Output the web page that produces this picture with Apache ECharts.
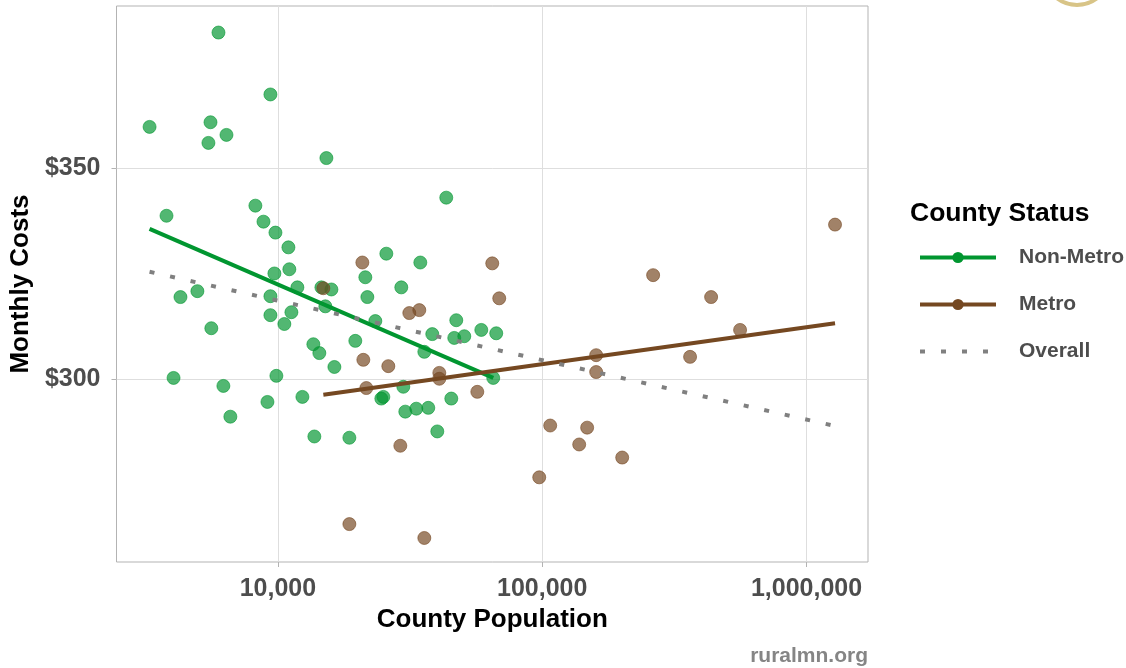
<!DOCTYPE html>
<html lang="en">
  <head>
    <meta charset="UTF-8" />
    <title>Monthly Costs by County Population</title>
    <script src="https://cdn.jsdelivr.net/npm/echarts@6/dist/echarts.min.js"></script>
  </head>
  <body style="margin: 0; background: #fff">
    <div id="chart" style="width: 1126px; height: 668px"></div>
  </body>
  <script>
    // non-metro counties: population, monthly cost
    const nonMetroPop = [
      5960, 9370, 3270, 5560, 6390, 5460, 15260, 3790, 8220, 8820, 9790, 10960,
      9700, 11050, 11850, 14610, 15940, 21420, 21800, 4960, 4280, 9370, 11250,
      9370, 10580, 15120, 5600, 19630, 13620, 14350, 16360, 23370, 4030, 9870,
      6220, 9130, 6610, 12380, 13740, 18640, 43350, 25720, 34580, 29300, 47300,
      38380, 46480, 50720, 58820, 67000, 35810, 65270, 29820, 24620, 25060,
      45290, 30340, 33390, 37070, 40090,
    ];
    const nonMetroCost = [
      382.3, 367.6, 359.9, 361.0, 358.0, 356.1, 352.5, 338.8, 341.2, 337.4,
      334.8, 331.3, 325.1, 326.1, 321.8, 321.8, 321.3, 324.2, 319.5, 320.9,
      319.5, 319.7, 315.9, 315.2, 313.1, 317.3, 312.1, 309.1, 308.3, 306.2,
      302.9, 313.8, 300.3, 300.8, 298.4, 294.6, 291.1, 295.8, 286.4, 286.1,
      343.1, 329.8, 327.7, 321.8, 314.0, 310.7, 309.8, 310.2, 311.7, 310.9,
      306.5, 300.3, 298.2, 295.4, 295.8, 295.4, 292.3, 293.0, 293.2, 287.6,
    ];
    // metro counties
    const metroPop = [
      14860, 20870, 31420, 34280, 21050, 26170, 21610, 40800, 40800, 29050,
      18640, 35810, 64710, 68770, 56810, 97430, 107200, 147900, 138000, 200700,
      160000, 160000, 262800, 362600, 435500, 560500, 1281600,
    ];
    const metroCost = [
      321.6, 327.7, 315.7, 316.4, 304.6, 303.1, 297.9, 301.5, 300.1, 284.2,
      265.6, 262.3, 327.5, 319.2, 297.0, 276.7, 289.0, 288.5, 284.5, 281.4,
      305.7, 301.7, 324.7, 305.3, 319.5, 311.7, 336.7,
    ];
    // fitted lines (end points)
    const nonMetroFitPop = [3270, 65300];
    const nonMetroFitCost = [335.7, 300.3];
    const metroFitPop = [14860, 1281600];
    const metroFitCost = [296.3, 313.3];
    const overallFitPop = [3270, 1281600];
    const overallFitCost = [325.5, 288.9];

    const yTicks = [300, 350];
    const xTicks = [10000, 100000, 1000000];

    const font = "Liberation Sans, Arial, sans-serif";
    const green = "#019630";
    const brown = "#754821";

    function pairs(xs, ys) {
      return xs.map((x, i) => [x, ys[i]]);
    }

    function lineSeries(name, xs, ys, color, extra) {
      return Object.assign(
        {
          name: name,
          type: "line",
          data: pairs(xs, ys),
          symbol: "circle",
          symbolSize: 13,
          showSymbol: false,
          z: 5,
          silent: true,
          itemStyle: { color: color },
          lineStyle: { color: color, width: 4 },
        },
        extra || {}
      );
    }

    function pointSeries(name, xs, ys, rgb) {
      return {
        name: name,
        type: "scatter",
        data: pairs(xs, ys),
        symbolSize: 13,
        z: 3,
        itemStyle: {
          color: "rgba(" + rgb + ",0.85)",
          borderColor: "rgba(" + rgb + ",0.95)",
          borderWidth: 0.8,
        },
      };
    }

    const chart = echarts.init(document.getElementById("chart"));
    chart.setOption({
      backgroundColor: "#fff",
      animation: false,
      textStyle: { fontFamily: font },
      title: {
        text: "County Status",
        left: 905,
        top: 195,
        textStyle: { fontFamily: font, fontSize: 26.5, fontWeight: "bold", color: "#000" },
      },
      legend: {
        orient: "vertical",
        left: 913,
        top: 242,
        itemWidth: 76,
        itemHeight: 14,
        itemGap: 26,
        lineStyle: { width: 4 },
        data: [
          "Non-Metro",
          "Metro",
          { name: "Overall", itemStyle: { opacity: 0 } },
        ],
        textStyle: {
          fontFamily: font,
          fontSize: 21,
          fontWeight: "bold",
          color: "#4d4d4d",
          padding: [0, 0, 0, 18],
        },
      },
      grid: {
        left: 116,
        right: 258,
        top: 6,
        bottom: 106,
        show: true,
        borderColor: "#b3b3b3",
        borderWidth: 1,
      },
      xAxis: {
        type: "log",
        logBase: 10,
        min: 2452,
        max: 1708000,
        name: "County Population",
        nameLocation: "middle",
        nameGap: 40,
        nameTextStyle: { fontFamily: font, fontSize: 26, fontWeight: "bold", color: "#000" },
        axisLine: { show: false },
        axisTick: { show: true, length: 5, customValues: xTicks, lineStyle: { color: "#b3b3b3" } },
        axisLabel: {
          margin: 15,
          customValues: xTicks,
          fontFamily: font,
          fontSize: 25,
          fontWeight: "bold",
          color: "#4d4d4d",
          formatter: (v) => Math.round(v).toLocaleString("en-US"),
        },
        splitLine: { show: true, lineStyle: { color: "#dedede", width: 1 } },
        minorSplitLine: { show: false },
      },
      yAxis: {
        type: "value",
        min: 256.6,
        max: 388.6,
        name: "Monthly Costs",
        nameLocation: "middle",
        nameGap: 77,
        nameTextStyle: { fontFamily: font, fontSize: 26, fontWeight: "bold", color: "#000" },
        axisLine: { show: false },
        axisTick: { show: true, length: 5, customValues: yTicks, lineStyle: { color: "#b3b3b3" } },
        axisLabel: {
          margin: 16,
          customValues: yTicks,
          fontFamily: font,
          fontSize: 25,
          fontWeight: "bold",
          color: "#4d4d4d",
          formatter: (v) => "$" + v,
        },
        splitLine: { show: true, lineStyle: { color: "#dedede", width: 1 } },
      },
      graphic: [
        {
          type: "text",
          x: 868,
          y: 656,
          style: {
            text: "ruralmn.org",
            font: "bold 21px " + font,
            fill: "#858585",
            align: "right",
            verticalAlign: "middle",
          },
        },
        {
          type: "arc",
          shape: { cx: 1077, cy: -28, r: 33, startAngle: 0.9, endAngle: Math.PI - 0.9 },
          style: { stroke: "#d8c487", lineWidth: 4, fill: null },
        },
      ],
      series: [
        lineSeries("Non-Metro", nonMetroFitPop, nonMetroFitCost, green),
        lineSeries("Metro", metroFitPop, metroFitCost, brown),
        lineSeries("Overall", overallFitPop, overallFitCost, "#808080", {
          symbol: "none",
          lineStyle: { color: "#808080", width: 4, type: [5, 16], cap: "butt" },
        }),
        pointSeries("Non-Metro", nonMetroPop, nonMetroCost, "1,150,48"),
        pointSeries("Metro", metroPop, metroCost, "117,72,33"),
      ],
    });
  </script>
</html>
